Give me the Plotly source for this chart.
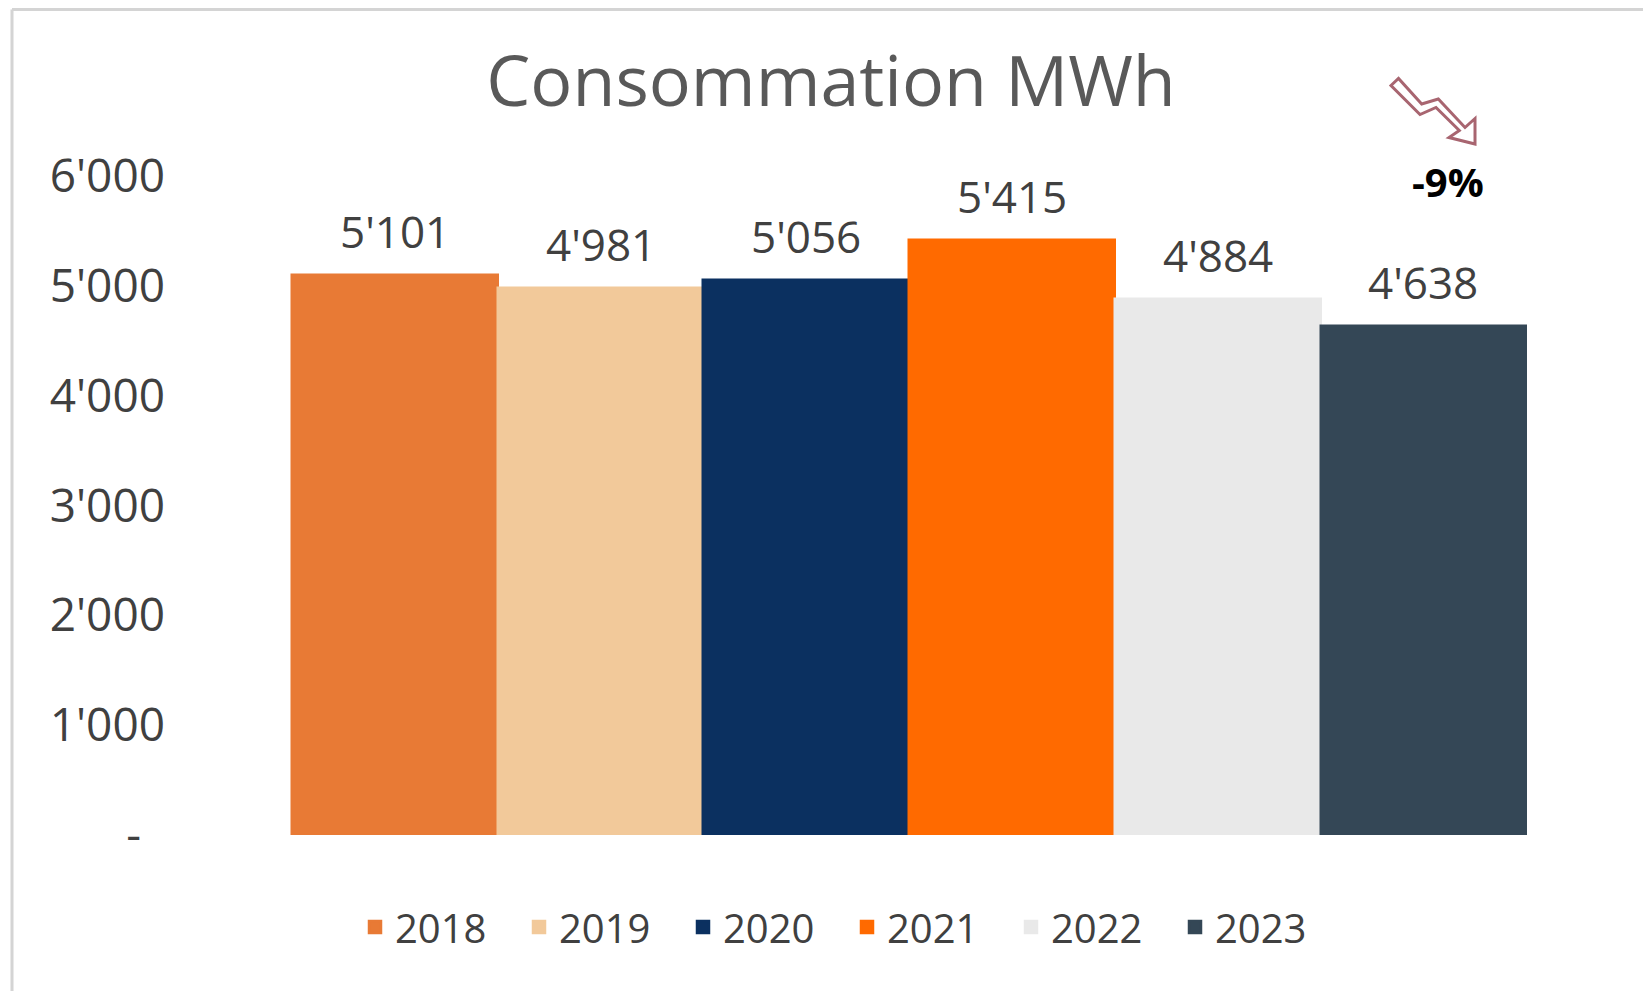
import plotly.graph_objects as go

years = ["2018", "2019", "2020", "2021", "2022", "2023"]
values = [5101, 4981, 5056, 5415, 4884, 4638]
colors = ["#E87A35", "#F2C99A", "#0B3060", "#FF6A00", "#E9E9E9", "#344756"]
tick_vals = [0, 1000, 2000, 3000, 4000, 5000, 6000]
tick_text = ["-\u00a0\u00a0", "1'000", "2'000", "3'000", "4'000", "5'000", "6'000"]
title_text = "Consommation MWh"
change_text = "-9%"

OFF = 8  # default body margin of the html page
W, H = 1651 - OFF, 991 - OFF
# target positions in page pixels
L, R, T, B = 180, 1640, 176, 835
PW, PH = R - L, B - T


def px(x):
    return (x - L) / PW


def py(y):
    return (B - y) / PH


FONT = "Open Sans"
TXT = "#404040"

positions = list(range(len(years)))

fig = go.Figure()
for pos, yr, v, c in zip(positions, years, values, colors):
    fig.add_trace(go.Bar(
        x=[pos], y=[v], name=yr, width=1,
        marker=dict(color=c, line=dict(color=c, width=2.5)),
        hoverinfo="skip",
    ))

annotations = []
for pos, v in zip(positions, values):
    annotations.append(dict(
        x=pos, y=v, xref="x", yref="y",
        text=f"{v:,}".replace(",", "'"),
        showarrow=False, yanchor="bottom", yshift=12,
        font=dict(family=FONT, size=44, color=TXT),
    ))

annotations.append(dict(
    x=px(1448), y=py(181), xref="paper", yref="paper",
    text=f"<b>{change_text}</b>", showarrow=False,
    xanchor="center", yanchor="middle",
    font=dict(family=FONT, size=40, color="#000000"),
))

arrow_pts = [(1391.0, 85.5), (1398.5, 78.5), (1421.7, 104), (1438.3, 99),
             (1465, 127.5), (1475, 118.5), (1475, 144), (1449, 137.5),
             (1459.3, 130.5), (1436, 107.5), (1420, 114.5)]
path = "M " + " L ".join(f"{px(a):.5f},{py(b):.5f}" for a, b in arrow_pts) + " Z"

shapes = [
    dict(type="line", xref="paper", yref="paper",
         x0=px(12), x1=px(1647), y0=py(9.5), y1=py(9.5),
         line=dict(color="#D4D4D4", width=3), layer="below"),
    dict(type="line", xref="paper", yref="paper",
         x0=px(12), x1=px(12), y0=py(9.5), y1=py(995),
         line=dict(color="#D4D4D4", width=3), layer="below"),
    dict(type="line", xref="paper", yref="paper",
         x0=px(1647), x1=px(1647), y0=py(9.5), y1=py(995),
         line=dict(color="#F0F0F0", width=2), layer="below"),
    dict(type="path", xref="paper", yref="paper", path=path,
         line=dict(color="#A86570", width=3), fillcolor="white"),
]

fig.update_layout(
    width=W, height=H,
    margin=dict(l=L - OFF, r=(W + OFF) - R, t=T - OFF, b=(H + OFF) - B, pad=0),
    paper_bgcolor="white", plot_bgcolor="white",
    barmode="overlay", bargap=0,
    title=dict(text=title_text, x=(831 - OFF) / W, y=1 - (81 - OFF) / H,
               xanchor="center", yanchor="middle",
               font=dict(family=FONT, size=70, color="#595959")),
    xaxis=dict(range=[-1.0445, 6.053], showticklabels=False, showgrid=False,
               zeroline=False, showline=False, fixedrange=True),
    yaxis=dict(range=[0, 6000], tickvals=tick_vals, ticktext=tick_text,
               showgrid=False, zeroline=False, showline=False, ticks="",
               ticklabelstandoff=14,
               tickfont=dict(family=FONT, size=46, color=TXT)),
    legend=dict(orientation="h", x=px(355), xanchor="left", y=py(927), yanchor="middle",
                entrywidth=119, entrywidthmode="pixels",
                font=dict(family=FONT, size=40, color=TXT), itemclick=False),
    annotations=annotations,
    shapes=shapes,
    showlegend=True,
)

fig.write_html("out.html")
